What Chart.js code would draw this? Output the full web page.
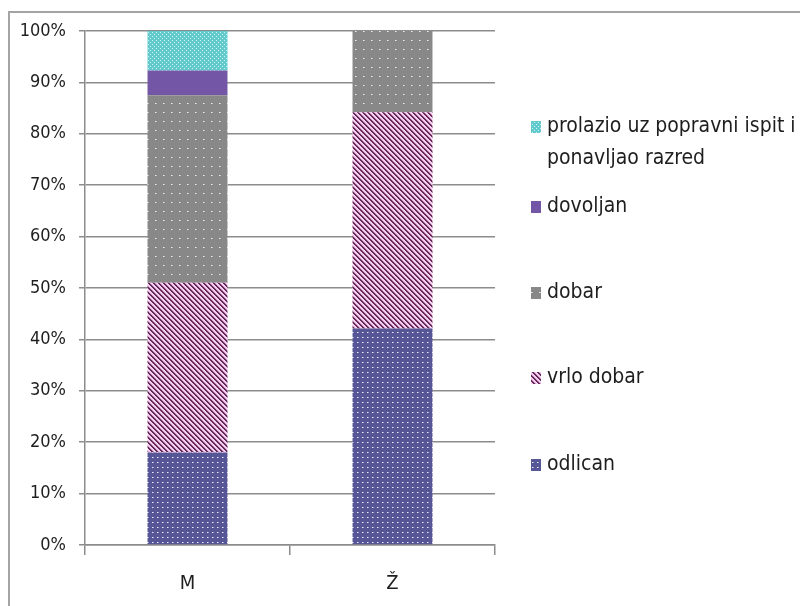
<!DOCTYPE html>
<html>
<head>
<meta charset="utf-8">
<script src="https://cdn.jsdelivr.net/npm/chart.js@4.4.1/dist/chart.umd.min.js"></script>
<style>
  html, body { margin: 0; padding: 0; background: #ffffff; }
  #wrap { width: 800px; height: 606px; position: relative; }
</style>
</head>
<body>
<div id="wrap"><canvas id="c" width="800" height="606"></canvas></div>
<script>
// ---- data ----
const categories = ['M', 'Ž'];
const odlican   = [18.0, 42.1];
const vrloDobar = [33.0, 42.1];
const dobar     = [36.5, 15.8];
const dovoljan  = [4.8, 0];
const prolazio  = [7.7, 0];
const seriesNames = ['odlican', 'vrlo dobar', 'dobar', 'dovoljan', 'prolazio uz popravni ispit i ponavljao razred'];
const yMax = 100;
const yStep = 10;

// ---- patterns ----
function makeTile(w, h, fn) {
  const c = document.createElement('canvas');
  c.width = w; c.height = h;
  const cx = c.getContext('2d');
  const img = cx.createImageData(w, h);
  for (let y = 0; y < h; y++) {
    for (let x = 0; x < w; x++) {
      const col = fn(x, y);
      const k = (y * w + x) * 4;
      img.data[k] = col[0]; img.data[k + 1] = col[1]; img.data[k + 2] = col[2]; img.data[k + 3] = 255;
    }
  }
  cx.putImageData(img, 0, 0);
  return document.getElementById('c').getContext('2d').createPattern(c, 'repeat');
}
const patOdlican = makeTile(5, 5, (x, y) => {
  if (x === 2 && y === 2) return [240, 240, 252];
  if (x === 3 && y === 2) return [160, 160, 210];
  return [86, 86, 150];
});
const patVrlo = makeTile(5, 5, (x, y) => {
  const d = ((x - y) % 5 + 5) % 5;
  if (d <= 1) return [104, 42, 90];
  if (d === 2) return [214, 160, 204];
  return [246, 210, 242];
});
const patDobar = makeTile(8, 9, (x, y) => {
  if (x === 3 && y === 4) return [240, 240, 240];
  if (x === 4 && y === 4) return [190, 190, 190];
  return [136, 136, 136];
});
const solidDovoljan = '#7456a6';
const patProlazio = makeTile(4, 4, (x, y) => ((x === 0 && y === 0) || (x === 2 && y === 2)) ? [205, 244, 244] : [98, 202, 204]);

const seriesValues = [odlican, vrloDobar, dobar, dovoljan, prolazio];
const seriesFills = [patOdlican, patVrlo, patDobar, solidDovoljan, patProlazio];

const FONT = '"DejaVu Sans Condensed", "DejaVu Sans", sans-serif';
const legendY = [465, 378, 293, 207, 127];

const framePlugin = {
  id: 'frame',
  beforeDraw(chart) {
    const ctx = chart.ctx;
    ctx.save();
    ctx.fillStyle = '#ffffff';
    ctx.fillRect(0, 0, chart.width, chart.height);
    ctx.strokeStyle = '#a4a4a4';
    ctx.lineWidth = 2;
    ctx.strokeRect(9, 12, 900, 900);
    ctx.restore();
  },
  afterDraw(chart) {
    const ctx = chart.ctx;
    ctx.save();
    ctx.font = '21px ' + FONT;
    ctx.textBaseline = 'middle';
    ctx.textAlign = 'left';
    const maxW = 258;
    chart.data.datasets.forEach((ds, i) => {
      const y = legendY[i];
      ctx.fillStyle = ds.backgroundColor;
      ctx.fillRect(531, y - 6, 10, 12);
      const words = ds.label.split(' ');
      const lines = [];
      let cur = '';
      words.forEach(w => {
        const t = cur ? cur + ' ' + w : w;
        if (ctx.measureText(t).width > maxW && cur) { lines.push(cur); cur = w; }
        else cur = t;
      });
      if (cur) lines.push(cur);
      ctx.fillStyle = '#1e1e1e';
      lines.forEach((ln, j) => ctx.fillText(ln, 547, y + j * 32));
    });
    ctx.restore();
  }
};

new Chart(document.getElementById('c'), {
  type: 'bar',
  data: {
    labels: categories,
    datasets: seriesValues.map((vals, i) => ({
      label: seriesNames[i],
      data: vals,
      backgroundColor: seriesFills[i],
      borderWidth: 0,
      barPercentage: 0.39,
      categoryPercentage: 1.0
    }))
  },
  options: {
    responsive: false,
    animation: false,
    devicePixelRatio: 1,
    layout: { padding: { top: 31, right: 305, left: 0, bottom: 0 } },
    plugins: { legend: { display: false }, tooltip: { enabled: false } },
    scales: {
      x: {
        stacked: true,
        offset: true,
        grid: { display: true, offset: true, drawOnChartArea: false, color: '#8c8c8c', lineWidth: 1.5, tickLength: 10 },
        border: { display: true, color: '#8c8c8c', width: 1.5 },
        ticks: { color: '#1e1e1e', font: { family: FONT, size: 20 }, padding: 17 },
        afterFit(scale) { scale.height = 61; }
      },
      y: {
        stacked: true,
        min: 0,
        max: yMax,
        ticks: {
          stepSize: yStep,
          color: '#1e1e1e',
          font: { family: FONT, size: 18 },
          padding: 13,
          callback: v => v + '%'
        },
        grid: { color: '#8c8c8c', lineWidth: 1.5, tickLength: 6 },
        border: { display: true, color: '#8c8c8c', width: 1.5 },
        afterFit(scale) { scale.width = 85; }
      }
    }
  },
  plugins: [framePlugin]
});
</script>
</body>
</html>
